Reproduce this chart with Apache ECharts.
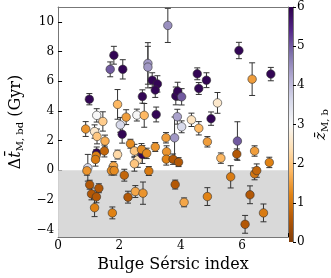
<!DOCTYPE html>
<html><head><meta charset="utf-8">
<script src="https://cdn.jsdelivr.net/npm/echarts@6/dist/echarts.min.js"></script>
<style>html,body{margin:0;padding:0;background:#fff}#c{width:331px;height:278px}</style>
</head><body><div id="c"></div>
<script>
// Bulge Sérsic index
const sersic = [1.02,1.82,1.70,2.11,1.94,1.26,1.46,0.90,2.03,2.22,2.09,2.57,2.81,2.75,2.93,2.93,3.07,3.24,3.17,3.20,3.58,3.84,3.90,4.03,3.89,4.03,4.35,4.59,4.54,4.59,4.84,5.90,6.94,6.33,5.20,4.99,1.19,1.27,1.53,1.26,1.51,1.24,1.22,0.97,0.94,1.03,1.09,1.33,1.25,1.19,1.77,2.16,2.28,2.52,2.77,2.36,2.49,2.60,2.49,1.94,1.81,1.74,1.83,2.75,2.72,2.89,2.96,3.17,3.52,3.80,3.54,3.53,3.75,3.93,3.82,4.11,4.87,4.87,5.31,5.85,5.83,6.41,6.89,5.63,6.41,6.48,6.26,6.70,6.10];
// Delta t_M,bd (Gyr)
const deltaT = [4.79,7.75,6.80,6.80,4.44,3.70,3.29,2.78,3.06,3.58,2.43,3.72,3.70,4.97,7.20,6.95,6.07,5.82,5.41,3.76,9.76,5.01,5.33,4.95,3.61,2.93,3.40,2.83,6.50,5.51,6.07,8.07,6.48,6.14,4.54,3.48,2.61,2.28,1.97,1.17,1.30,0.98,0.73,0.17,-0.03,-0.97,-1.59,-1.21,-1.79,-2.52,-2.87,-0.33,-1.81,-1.43,-1.54,1.79,1.30,0.70,0.44,1.06,0.29,-0.02,-0.02,1.06,1.40,1.14,-0.05,1.57,2.19,2.19,1.25,0.75,0.75,0.55,-0.96,-2.16,-1.77,1.92,0.82,1.97,1.09,1.30,0.53,-0.44,-0.24,-0.02,-1.65,-2.87,-3.64];
// error on Delta t (Gyr)
const deltaTErr = [0.38,0.6,0.5,0.65,1.0,0.45,0.65,0.5,0.5,0.5,0.6,0.4,0.8,0.45,1.4,1.4,0.5,0.55,0.5,0.5,1.15,0.6,0.6,0.55,0.5,0.4,0.45,0.45,0.4,0.4,0.5,0.55,0.45,1.1,0.7,0.45,0.45,0.5,0.4,0.4,0.4,0.4,0.45,0.9,0.3,0.3,0.4,0.3,0.4,0.6,0.4,0.4,0.4,0.4,0.75,0.3,0.45,0.5,0.5,0.3,0.3,0.3,0.3,0.6,0.4,0.35,0.3,0.3,0.35,1.4,0.4,0.4,0.35,0.3,0.3,0.3,0.6,0.35,0.35,1.3,0.35,0.35,0.35,0.75,0.4,0.45,0.6,0.6,0.6];
// colour value z_M,b
const zMb = [5.9,5.9,5.0,5.9,1.8,3.0,2.1,1.4,3.6,1.5,5.9,3.0,1.8,5.9,4.4,4.4,5.9,5.9,5.9,5.9,4.5,5.9,5.9,5.0,4.3,3.6,2.5,1.8,5.9,5.9,5.9,5.9,5.9,1.5,2.6,5.9,2.6,2.0,1.7,5.9,0.8,1.2,1.1,3.6,1.4,0.6,0.6,0.6,0.6,1.2,1.2,0.8,0.6,1.6,1.4,1.3,2.0,2.4,2.0,2.3,1.6,1.3,1.3,5.9,1.3,1.3,1.1,1.4,1.5,4.4,1.4,1.2,0.6,0.6,0.6,1.6,1.2,1.5,1.8,5.0,0.6,1.5,1.2,1.1,1.0,0.8,0.6,1.1,0.6];
const xTicks = [0,2,4,6];
const yTicks = [-4,-2,0,2,4,6,8,10];
const cbTicks = [0,1,2,3,4,5,6];

const PuOr_r = ['#7f3b08','#b35806','#e08214','#fdb863','#fee0b6','#f7f7f7','#d8daeb','#b2abd2','#8073ac','#542788','#2d004b'];
const FONT = 'DejaVu Serif';

const pts = sersic.map((x,i)=>[x, deltaT[i], deltaTErr[i], zMb[i]]);

const chart = echarts.init(document.getElementById('c'), null, {renderer:'canvas'});
const minus = v => String(v).replace('-', '\u2212');
chart.setOption({
  animation:false,
  backgroundColor:'#fff',
  grid:[
    {left:43, top:7, width:245, height:235},
    {left:289, top:7, width:10, height:235}
  ],
  xAxis:[
    {gridIndex:0, type:'value', min:0, max:7.5, interval:2,
     name:'Bulge Sérsic index', nameLocation:'middle', nameGap:17,
     nameTextStyle:{fontFamily:FONT, fontSize:16, color:'#000'},
     axisLine:{show:true, onZero:false, lineStyle:{color:'#777', width:1}},
     axisTick:{show:true, inside:true, length:4, lineStyle:{color:'#000'}},
     axisLabel:{fontFamily:FONT, fontSize:12, color:'#000', margin:3,
       formatter:v=> xTicks.includes(v)? minus(v):''},
     splitLine:{show:false}},
    {gridIndex:0, type:'value', min:0, max:7.5, position:'top',
     axisLine:{show:true, onZero:false, lineStyle:{color:'#777'}}, axisTick:{show:false}, axisLabel:{show:false}, splitLine:{show:false}},
    {gridIndex:1, type:'category', data:[''], show:false}
  ],
  yAxis:[
    {gridIndex:0, type:'value', min:-4.5, max:11, interval:2,
     name:'{a|Δ}{i|t̄}{s|M, bd}{a| (Gyr)}', nameLocation:'middle', nameGap:28, nameRotate:90,
     nameTextStyle:{fontFamily:FONT, fontSize:16, color:'#000',
       rich:{a:{fontFamily:FONT,fontSize:16,color:'#000'},
             i:{fontFamily:FONT,fontSize:16,fontStyle:'italic',color:'#000'},
             s:{fontFamily:FONT,fontSize:10,color:'#000',padding:[9,0,0,0]}}},
     axisLine:{show:true, onZero:false, lineStyle:{color:'#777'}},
     axisTick:{show:true, inside:true, length:4, lineStyle:{color:'#000'},
       customValues: yTicks},
     axisLabel:{fontFamily:FONT, fontSize:12, color:'#000', margin:4,
       customValues: yTicks, formatter:v=>minus(v)},
     splitLine:{show:false}},
    {gridIndex:0, type:'value', min:-4.5, max:11, position:'right',
     axisLine:{show:true, onZero:false, lineStyle:{color:'#777'}}, axisTick:{show:false}, axisLabel:{show:false}, splitLine:{show:false}},
    {gridIndex:1, type:'value', min:0, max:6, interval:1, position:'right',
     name:'{i|z̄}{s|M, b}', nameLocation:'middle', nameGap:19, nameRotate:90,
     nameTextStyle:{fontFamily:FONT, fontSize:15, color:'#000',
       rich:{i:{fontFamily:FONT,fontSize:15,fontStyle:'italic',color:'#000'},
             s:{fontFamily:FONT,fontSize:10,color:'#000',padding:[8,0,0,0]}}},
     axisLine:{show:true, onZero:false, lineStyle:{color:'#777'}},
     axisTick:{show:true, inside:false, length:3, lineStyle:{color:'#000'}},
     axisLabel:{fontFamily:FONT, fontSize:12, color:'#000', margin:4},
     splitLine:{show:false}}
  ],
  visualMap:{show:false, type:'continuous', min:0, max:6, dimension:3, seriesIndex:1,
    inRange:{color:PuOr_r}},
  series:[
    {type:'custom', xAxisIndex:0, yAxisIndex:0, data:pts, z:2,
     renderItem:(params, api)=>{
       const x=api.value(0), y=api.value(1), e=api.value(2);
       const top=api.coord([x,y+e]), bot=api.coord([x,y-e]);
       const st={stroke:'#333', lineWidth:1};
       return {type:'group', children:[
         {type:'line', shape:{x1:top[0],y1:top[1],x2:bot[0],y2:bot[1]}, style:st},
         {type:'line', shape:{x1:top[0]-3,y1:top[1],x2:top[0]+3,y2:top[1]}, style:st},
         {type:'line', shape:{x1:bot[0]-3,y1:bot[1],x2:bot[0]+3,y2:bot[1]}, style:st}
       ]};
     },
     markArea:{silent:true, itemStyle:{color:'#d9d9d9'}, data:[[{coord:[0,-4.5]},{coord:[7.5,0]}]]}
    },
    {type:'scatter', xAxisIndex:0, yAxisIndex:0, data:pts, symbolSize:8.5, z:3,
     itemStyle:{borderColor:'#333', borderWidth:0.6, opacity:1}},
    {type:'bar', xAxisIndex:2, yAxisIndex:2, data:[6], barWidth:'100%', silent:true,
     itemStyle:{color:new echarts.graphic.LinearGradient(0,0,0,1,
       PuOr_r.slice().reverse().map((c,i,a)=>({offset:i/(a.length-1), color:c})))}}
  ]
});
</script></body></html>
